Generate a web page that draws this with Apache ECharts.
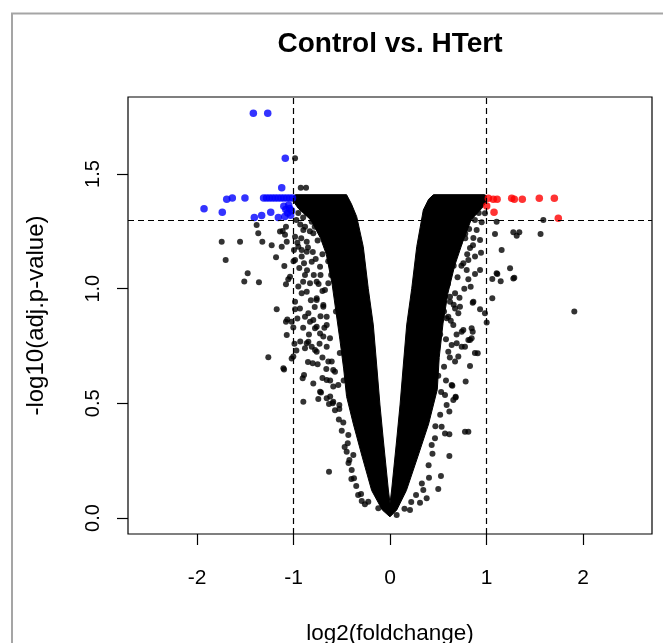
<!DOCTYPE html>
<html>
<head>
<meta charset="utf-8">
<script src="https://cdn.jsdelivr.net/npm/echarts@6/dist/echarts.min.js"></script>
<style>
html,body{margin:0;padding:0;background:#fff;overflow:hidden;}
#chart{width:663px;height:643px;}
</style>
</head>
<body>
<div id="chart"></div>
<script>
// ---- data ----
const chartTitle = 'Control vs. HTert';
const xName = 'log2(foldchange)';
const yName = '-log10(adj.p-value)';
const xTicks = [-2, -1, 0, 1, 2];
const yTicks = [0, 0.5, 1, 1.5];
const fcCutoffs = [-1, 1];
const pCutoff = 1.301;

// outline of the dense (solid black) V-shaped point cloud: [log2FC, -log10 p]
const denseCloudOutline = [
  [0.00,0.005],[-0.08,0.035],[-0.19,0.12],[-0.29,0.27],[-0.38,0.41],[-0.45,0.53],
  [-0.48,0.65],[-0.52,0.78],[-0.56,0.90],[-0.60,1.02],[-0.66,1.15],[-0.72,1.22],
  [-0.82,1.30],[-0.95,1.35],[-1.00,1.38],[-1.00,1.405],[-0.98,1.41],[-0.45,1.41],
  [-0.40,1.37],[-0.345,1.314],[-0.277,1.183],[-0.225,1.00],[-0.173,0.842],
  [-0.138,0.667],[-0.104,0.493],[-0.069,0.34],[-0.017,0.122],[0.00,0.064],
  [0.017,0.122],[0.069,0.34],[0.104,0.493],[0.138,0.667],[0.173,0.842],
  [0.225,1.00],[0.277,1.183],[0.345,1.343],[0.40,1.39],[0.45,1.41],
  [0.98,1.41],[1.00,1.405],[1.00,1.38],[0.95,1.35],
  [0.84,1.30],[0.75,1.20],[0.67,1.10],[0.60,0.98],[0.55,0.85],[0.51,0.70],
  [0.49,0.56],[0.40,0.41],[0.29,0.27],[0.17,0.12],[0.07,0.035]
];

// non-significant genes scattered outside the dense cloud
const nsPoints = [
  [-1.744,1.205],[-1.554,1.205],[-1.323,1.205],[-1.382,1.278],[-1.365,1.242],[-1.226,1.19],
  [-1.122,1.183],[-1.14,1.249],[-1.078,1.27],[-1.088,1.235],[-1.07,1.205],[-1.112,1.252],
  [-0.984,1.569],[-0.925,1.44],[-0.87,1.44],
  [-1.703,1.125],[-1.475,1.067],[-1.51,1.031],[-1.358,1.028],[-1.181,1.137],[-1.095,1.099],
  [-1.054,1.041],[-1.078,1.019],[-1.036,1.052],[-1.174,0.91],[-1.064,0.866],[-1.078,0.856],
  [-1.019,0.856],[-1.002,0.831],[-1.07,0.798],[-1.261,0.701],[-1.019,0.696],[-1.098,0.648],
  [-1.105,0.653],[-1.002,0.704],[-1.0,1.12],[-0.99,0.76],
  [-0.984,0.943],[-0.984,0.91],[-0.995,1.169],[-0.891,1.111],[-0.881,1.06],[-0.829,1.024],
  [-0.915,0.98],[-0.863,0.987],[-0.846,0.893],[-0.795,0.864],[-0.76,0.834],[-0.863,0.762],
  [-0.881,0.74],[-0.777,0.733],[-0.801,0.675],[-0.891,0.624],[-0.905,0.609],[-0.795,0.587],
  [-0.725,0.551],[-0.76,0.951],[-0.691,0.921],[-0.656,0.878],[-0.674,0.994],[-0.639,1.024],
  [-0.863,1.161],[-0.915,1.14],[-0.811,1.118],[-0.725,1.096],[-0.691,0.791],[-0.656,0.747],
  [-0.639,0.682],[-0.588,0.645],[-0.656,0.602],[-0.588,0.573],
  [-0.984,1.227],[-0.95,1.183],[-0.984,1.125],[-0.898,1.256],[-0.863,1.205],[-0.915,1.169],
  [-0.811,1.292],[-0.795,1.242],[-0.75,1.21],[-0.70,1.15],[-0.76,1.03],[-0.72,1.06],
  [-0.846,0.769],[-0.811,0.747],[-0.76,0.725],[-0.829,0.856],[-0.777,0.827],[-0.725,0.805],
  [-0.933,0.914],[-0.881,0.878],[-0.76,0.958],[-0.691,0.929],[-0.656,0.842],[-0.622,0.784],
  [-0.604,0.682],[-0.57,0.638],[-0.536,0.58],[-0.656,0.522],[-0.588,0.507],
  [-0.898,0.507],[-0.743,0.519],[-0.715,0.547],[-0.632,0.497],[-0.594,0.5],[-0.525,0.493],
  [-0.525,0.475],[-0.484,0.417],[-0.632,0.202],[-0.432,0.362],[-0.438,0.326],[-0.421,0.253],
  [-0.397,0.209],[-0.373,0.173],[-0.3,0.105],[-0.293,0.074],[-0.225,0.071],[-0.121,0.042],
  [-0.449,0.289],[-0.38,0.275],[-0.56,0.90],[-0.61,1.06],[-0.64,1.12],[-0.52,0.72],[-0.48,0.60],
  [-0.95,1.33],[-0.90,1.31],[-0.86,1.33],[-0.93,1.28],[-0.97,1.30],[-0.88,1.27],[-0.83,1.25],
  [-0.78,1.27],[-0.96,1.20],[-0.92,1.22],[-0.85,1.18],[-0.80,1.16],[-0.77,1.13],[-0.94,1.09],
  [-0.86,1.08],[-0.79,1.06],[-0.74,1.02],[-0.70,0.99],[-0.95,1.01],[-0.90,1.03],[-0.82,0.95],
  [-0.78,0.92],[-0.72,0.88],[-0.68,0.83],[-0.96,0.87],[-0.90,0.83],[-0.84,0.80],[-0.73,0.76],
  [-0.70,0.70],[-0.75,0.67],[-0.66,0.65],[-0.62,0.60],[-0.70,0.61],[-0.93,0.77],[-0.97,0.73],
  [-0.85,0.68],[-0.62,0.53],[-0.57,0.47],[-0.53,0.43],[-0.50,0.38],[-0.47,0.31],[-0.43,0.24],
  [-0.40,0.17],[-0.35,0.14],[-0.33,0.10],[-0.26,0.06],
  [0.898,1.256],[0.933,1.212],[0.864,1.221],[0.829,1.177],[0.881,1.14],[0.812,1.125],[0.933,1.082],
  [0.984,1.329],[1.105,1.292],[1.088,1.239],[1.157,1.169],[1.244,1.089],[1.105,1.067],[1.278,1.045],
  [1.278,1.246],[1.34,1.246],[1.313,1.231],[1.589,1.30],[1.56,1.239],[1.91,0.90],
  [1.112,1.064],[1.06,1.042],[1.147,1.032],[1.288,1.048],[1.06,0.958],[1.002,0.853],[0.984,0.893],
  [0.933,0.91],[0.857,0.812],[0.829,0.776],[0.909,0.718],[0.829,0.663],[0.784,0.595],[0.646,0.577],
  [0.68,0.529],[0.857,0.939],[0.836,1.009],[0.812,1.041],[0.881,1.064],[0.795,1.082],[0.76,1.111],
  [0.943,1.157],[0.743,0.747],[0.691,0.762],[0.708,0.704],[0.639,0.754],[0.76,0.82],[0.708,0.893],
  [0.604,0.878],[0.725,0.921],[0.674,0.98],[0.622,0.965],
  [0.552,0.973],[0.622,0.943],[0.674,0.914],[0.587,0.871],[0.656,0.842],[0.743,0.812],[0.812,0.776],
  [0.604,0.725],[0.674,0.682],[0.777,0.747],[0.846,0.784],[0.88,0.72],[0.639,0.58],
  [0.57,0.536],[0.656,0.515],[0.846,0.827],[0.864,0.943],
  [0.68,0.526],[0.587,0.493],[0.615,0.464],[0.777,0.376],[0.812,0.376],[0.535,0.398],[0.57,0.369],
  [0.615,0.365],[0.615,0.27],[0.528,0.183],[0.5,0.126],[0.404,0.176],[0.345,0.122],[0.38,0.086],
  [0.311,0.067],[0.432,0.318],[0.466,0.348],[0.207,0.035],[0.069,0.013],
  [0.50,0.62],[0.52,0.80],[0.56,0.90],[0.60,1.02],[0.66,1.10],[0.72,1.20],[0.75,1.28],[0.78,1.22],
  [0.92,1.33],[0.88,1.30],[0.84,1.32],[0.95,1.29],[0.82,1.26],[0.78,1.24],[0.86,1.19],[0.80,1.15],
  [0.74,1.10],[0.70,1.05],[0.77,1.00],[0.72,0.96],[0.66,0.93],[0.63,0.86],[0.69,0.80],[0.58,0.78],
  [0.62,0.70],[0.56,0.66],[0.58,0.60],[0.53,0.55],[0.52,0.45],[0.47,0.40],[0.44,0.28],[0.40,0.23],
  [0.33,0.15],[0.27,0.10],[0.22,0.07],[0.15,0.04]
];

// significantly down-regulated genes (blue)
const downPoints = [
  [-1.416,1.765],[-1.267,1.765],[-1.085,1.569],[-1.122,1.44],[-1.927,1.349],[-1.738,1.333],
  [-1.692,1.39],[-1.634,1.396],[-1.503,1.396],
  [-1.31,1.396],[-1.28,1.396],[-1.25,1.396],[-1.22,1.396],[-1.19,1.396],[-1.16,1.396],
  [-1.13,1.396],[-1.10,1.396],[-1.07,1.396],[-1.04,1.396],[-1.01,1.396],
  [-1.406,1.31],[-1.33,1.319],[-1.236,1.333],[-1.157,1.31],
  [-1.10,1.36],[-1.08,1.345],[-1.06,1.33],[-1.04,1.35],[-1.03,1.32],[-1.09,1.315],
  [-1.02,1.34],[-1.05,1.365]
];

// significantly up-regulated genes (red)
const upPoints = [
  [1.019,1.394],[1.07,1.39],[1.11,1.39],[1.261,1.394],[1.288,1.39],[1.371,1.39],
  [1.547,1.394],[1.703,1.394],[1.002,1.361],[1.078,1.333],[1.744,1.307]
];

// ---- chart ----
const chart = echarts.init(document.getElementById('chart'), null, {renderer: 'canvas'});
const FONT = 'Liberation Sans, Arial, Helvetica, sans-serif';

const option = {
  animation: false,
  backgroundColor: '#fff',
  grid: {left: 128, top: 97, width: 524, height: 437, show: true,
         outerBoundsMode: 'none', containLabel: false,
         borderColor: '#000', borderWidth: 1.2, backgroundColor: 'transparent'},
  xAxis: {
    type: 'value', min: -2.715, max: 2.715,
    axisLine: {show: false, onZero: false},
    splitLine: {show: false},
    axisTick: {show: true, inside: false, length: 11, customValues: xTicks,
               lineStyle: {color: '#000', width: 1.2}},
    axisLabel: {show: true, customValues: xTicks, margin: 34, color: '#000',
                fontSize: 21, fontFamily: FONT},
    name: xName, nameLocation: 'middle', nameGap: 88,
    nameTextStyle: {color: '#000', fontSize: 22.5, fontFamily: FONT}
  },
  yAxis: {
    type: 'value', min: -0.0698, max: 1.836,
    axisLine: {show: false, onZero: false},
    splitLine: {show: false},
    axisTick: {show: true, inside: false, length: 11, customValues: yTicks,
               lineStyle: {color: '#000', width: 1.2}},
    axisLabel: {show: true, customValues: yTicks, rotate: 90, margin: 25, color: '#000',
                fontSize: 20, fontFamily: FONT,
                formatter: v => Number(v).toFixed(1)},
    name: yName, nameLocation: 'middle', nameGap: 80, nameRotate: 90,
    nameTextStyle: {color: '#000', fontSize: 24, fontFamily: FONT}
  },
  graphic: [
    {type: 'rect', silent: true, z: -10,
     shape: {x: 12, y: 13.5, width: 800, height: 800},
     style: {fill: 'none', stroke: '#a5a5a5', lineWidth: 2}},
    {type: 'text', silent: true, x: 390, y: 44,
     style: {text: chartTitle, textAlign: 'center', textVerticalAlign: 'middle',
             font: 'bold 28px ' + FONT, fill: '#000'}}
  ],
  series: [
    {
      type: 'custom', name: 'dense', z: 2, silent: true, clip: true,
      data: [[0, 0]],
      renderItem: function (params, api) {
        return {
          type: 'polygon',
          shape: {points: denseCloudOutline.map(p => api.coord(p))},
          style: {fill: '#000', stroke: '#000', lineWidth: 1}
        };
      }
    },
    {
      type: 'scatter', name: 'ns', z: 3, silent: true,
      symbol: 'circle', symbolSize: 6,
      itemStyle: {color: '#000'},
      data: nsPoints
    },
    {
      type: 'scatter', name: 'down', z: 4, silent: true,
      symbol: 'circle', symbolSize: 7.5,
      itemStyle: {color: '#0000ff'},
      data: downPoints
    },
    {
      type: 'scatter', name: 'up', z: 4, silent: true,
      symbol: 'circle', symbolSize: 7.5,
      itemStyle: {color: '#ff0000'},
      data: upPoints
    },
    {
      type: 'line', name: 'cutoffs', z: 5, silent: true, data: [],
      markLine: {
        silent: true, symbol: ['none', 'none'], animation: false,
        label: {show: false},
        lineStyle: {color: '#000', width: 1.2, type: [6, 4]},
        data: fcCutoffs.map(v => ({xAxis: v})).concat([{yAxis: pCutoff}])
      }
    }
  ]
};
chart.setOption(option);
</script>
</body>
</html>
